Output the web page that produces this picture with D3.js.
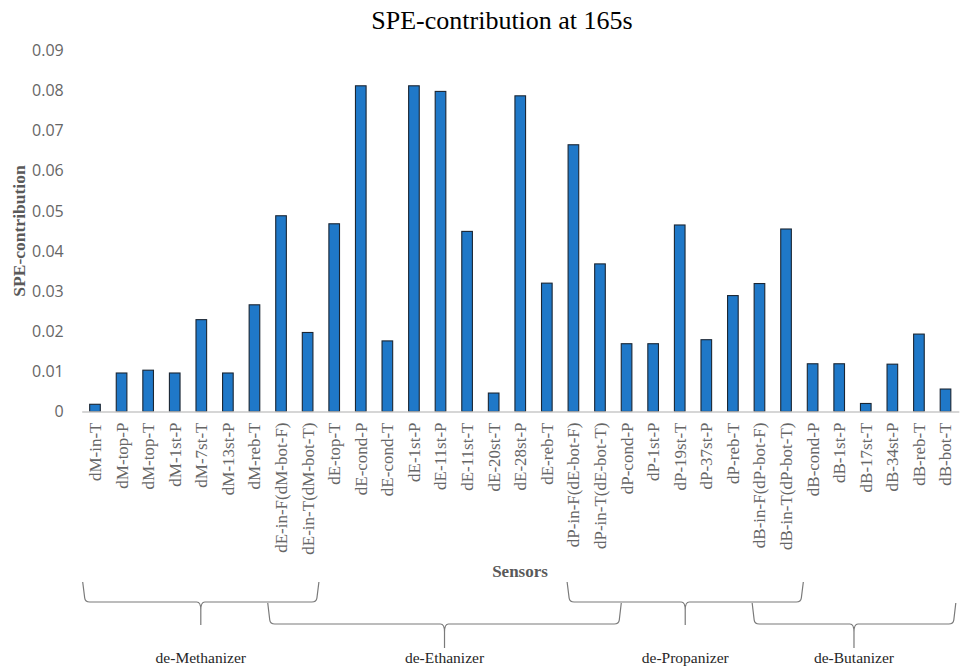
<!DOCTYPE html>
<html>
<head>
<meta charset="utf-8">
<script src="https://cdn.jsdelivr.net/npm/d3@7"></script>
<style>
  html, body { margin: 0; padding: 0; background: #ffffff; }
  svg { display: block; }
</style>
</head>
<body>
<svg id="chart" width="960" height="671"></svg>
<script>
// ---------------- data ----------------
const categories = [
  "dM-in-T", "dM-top-P", "dM-top-T", "dM-1st-P", "dM-7st-T", "dM-13st-P", "dM-reb-T",
  "dE-in-F(dM-bot-F)", "dE-in-T(dM-bot-T)", "dE-top-T", "dE-cond-P", "dE-cond-T",
  "dE-1st-P", "dE-11st-P", "dE-11st-T", "dE-20st-T", "dE-28st-P", "dE-reb-T",
  "dP-in-F(dE-bot-F)", "dP-in-T(dE-bot-T)", "dP-cond-P", "dP-1st-P", "dP-19st-T",
  "dP-37st-P", "dP-reb-T", "dB-in-F(dP-bot-F)", "dB-in-T(dP-bot-T)", "dB-cond-P",
  "dB-1st-P", "dB-17st-T", "dB-34st-P", "dB-reb-T", "dB-bot-T"
];
const speValues = [
  0.0018, 0.0096, 0.0103, 0.0096, 0.0229, 0.0096, 0.0266,
  0.0488, 0.0197, 0.0468, 0.0812, 0.0176,
  0.0812, 0.0798, 0.0449, 0.0046, 0.0787, 0.0320,
  0.0665, 0.0368, 0.0169, 0.0169, 0.0465,
  0.0179, 0.0289, 0.0319, 0.0455, 0.0119,
  0.0119, 0.0020, 0.0118, 0.0193, 0.0056
];
const yTicks = [0, 0.01, 0.02, 0.03, 0.04, 0.05, 0.06, 0.07, 0.08, 0.09];
const yTickLabels = ["0", "0.01", "0.02", "0.03", "0.04", "0.05", "0.06", "0.07", "0.08", "0.09"];
const groupNames = ["de-Methanizer", "de-Ethanizer", "de-Propanizer", "de-Butanizer"];
const groupFirst = ["dM-in-T", "dE-in-F(dM-bot-F)", "dP-in-F(dE-bot-F)", "dB-in-F(dP-bot-F)"];
const groupLast  = ["dE-in-T(dM-bot-T)", "dP-in-T(dE-bot-T)", "dB-in-T(dP-bot-T)", "dB-bot-T"];
const titleText = "SPE-contribution at 165s";
const yTitle = "SPE-contribution";
const xTitle = "Sensors";

// ---------------- layout ----------------
const svg = d3.select("#chart");
const baseY = 411.5, topY = 50.5;
const x = d3.scaleBand().domain(categories).range([81.7, 958.8])
  .paddingInner(0.6).paddingOuter(0.3);
const y = d3.scaleLinear().domain([0, 0.09]).range([baseY, topY]);
const step = x.step();

// title
svg.append("text")
  .attr("x", 502).attr("y", 29)
  .attr("text-anchor", "middle")
  .style("font-family", "'Liberation Serif', 'Times New Roman', serif")
  .style("font-size", "26px")
  .style("fill", "#000")
  .text(titleText);

// y axis
const yAxis = svg.append("g")
  .attr("transform", `translate(81.7,0)`)
  .call(d3.axisLeft(y).tickValues(yTicks).tickSize(0).tickPadding(18)
    .tickFormat((d, i) => yTickLabels[i]));
yAxis.select(".domain").remove();
yAxis.selectAll("text")
  .style("font-family", "'Open Sans', 'Noto Sans', sans-serif")
  .style("font-size", "16px")
  .style("fill", "#666666");

// y title
svg.append("text")
  .attr("transform", "translate(25,231) rotate(-90)")
  .attr("text-anchor", "middle")
  .style("font-family", "'Liberation Serif', 'Times New Roman', serif")
  .style("font-size", "17.5px")
  .style("font-weight", "bold")
  .style("fill", "#595959")
  .text(yTitle);

// bars
svg.append("g").selectAll("rect")
  .data(categories)
  .join("rect")
  .attr("x", d => x(d))
  .attr("width", x.bandwidth())
  .attr("y", (d, i) => y(speValues[i]))
  .attr("height", (d, i) => baseY - y(speValues[i]))
  .attr("fill", "#1f78c8")
  .attr("stroke", "#1b2633")
  .attr("stroke-width", 1.1);

// x axis
const xAxis = svg.append("g")
  .attr("transform", `translate(0,${baseY})`)
  .call(d3.axisBottom(x).tickSize(0).tickSizeOuter(0));
xAxis.select(".domain")
  .attr("stroke", "#c8c8c8").attr("stroke-width", 1.3);
xAxis.selectAll("text")
  .attr("y", 0).attr("x", -11).attr("dy", "0.35em")
  .attr("transform", "rotate(-90)")
  .style("text-anchor", "end")
  .style("font-family", "'Liberation Serif', 'Times New Roman', serif")
  .style("font-size", "17px")
  .style("fill", "#666666");

// x title
svg.append("text")
  .attr("x", 520).attr("y", 577)
  .attr("text-anchor", "middle")
  .style("font-family", "'Liberation Serif', 'Times New Roman', serif")
  .style("font-size", "17px")
  .style("font-weight", "bold")
  .style("fill", "#595959")
  .text(xTitle);

// group braces (hand-placed in the original; small nudges from slot edges)
const braceNudge = [[1, -2], [0, 8], [7, 4], [6, -3]];
const braceLevel = [[582, 602, 625], [603, 624, 648], [582, 602, 625], [603, 624, 648]];
const bg = svg.append("g");
groupNames.forEach((name, i) => {
  const x0 = x(groupFirst[i]) - 0.3 * step + braceNudge[i][0];
  const x1 = x(groupLast[i]) + x.bandwidth() + 0.3 * step + braceNudge[i][1];
  const mid = (x0 + x1) / 2;
  const [top, h, tip] = braceLevel[i];
  const p = d3.path();
  p.moveTo(x0, top);
  p.lineTo(x0 + 2, h - 4);
  p.quadraticCurveTo(x0 + 2.5, h, x0 + 7, h);
  p.lineTo(mid - 4, h);
  p.quadraticCurveTo(mid, h, mid, h + 8);
  p.lineTo(mid, tip);
  p.moveTo(mid, h + 8);
  p.quadraticCurveTo(mid, h, mid + 4, h);
  p.lineTo(x1 - 7, h);
  p.quadraticCurveTo(x1 - 2.5, h, x1 - 2, h - 4);
  p.lineTo(x1, top);
  bg.append("path")
    .attr("d", p.toString())
    .attr("fill", "none")
    .attr("stroke", "#7a7a7a")
    .attr("stroke-width", 1.2);
  bg.append("text")
    .attr("x", mid).attr("y", 663)
    .attr("text-anchor", "middle")
    .style("font-family", "'Liberation Serif', 'Times New Roman', serif")
    .style("font-size", "15.5px")
    .style("fill", "#262626")
    .text(name);
});
</script>
</body>
</html>
